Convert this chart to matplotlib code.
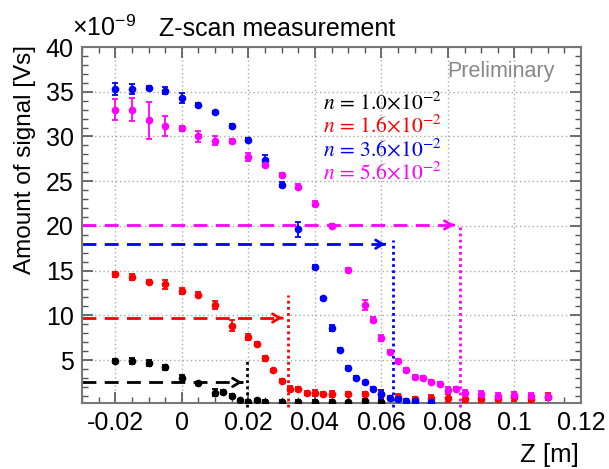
# -*- coding: utf-8 -*-

'''
    Z-scan measurement: signal vs. Z for four n values
'''

import matplotlib
matplotlib.use('Agg')
import matplotlib.pyplot as plt
from matplotlib.ticker import MultipleLocator

plt.rcParams['font.family'] = ['Liberation Sans', 'DejaVu Sans']
plt.rcParams['mathtext.fontset'] = 'stix'

# ---- data (signal in units of 1e-9 Vs) ----
x_n1 = [-0.02, -0.015, -0.01, -0.005, 0, 0.005, 0.01, 0.0125, 0.015, 0.0175,
        0.02, 0.0225, 0.025, 0.03, 0.035, 0.04, 0.045, 0.05, 0.055, 0.06]
y_n1 = [4.9, 4.9, 4.7, 4.2, 2.95, 2.4, 1.35, 1.4, 1.0, 0.5,
        0.35, 0.5, 0.35, 0.35, 0.35, 0.35, 0.35, 0.3, 0.4, 0.35]
e_n1 = [0.2, 0.35, 0.35, 0.3, 0.35, 0.2, 0.4, 0.2, 0.2, 0.15,
        0.15, 0.2, 0.15, 0.15, 0.15, 0.15, 0.15, 0.15, 0.3, 0.15]

x_n2 = [-0.02, -0.015, -0.01, -0.005, 0, 0.005, 0.01, 0.015, 0.02, 0.0225,
        0.025, 0.0275, 0.03, 0.0325, 0.035, 0.0375, 0.04, 0.0425, 0.045, 0.05,
        0.055, 0.06, 0.065, 0.07, 0.075, 0.08, 0.085, 0.09, 0.095, 0.1,
        0.105, 0.11]
y_n2 = [14.6, 14.25, 13.7, 13.5, 12.7, 12.3, 11.15, 8.85, 7.6, 6.8,
        5.2, 3.85, 2.7, 1.8, 1.75, 1.3, 1.3, 1.2, 1.2, 1.2,
        1.2, 1.2, 0.9, 0.6, 0.8, 0.8, 0.7, 0.65, 0.7, 0.9,
        0.7, 0.9]
e_n2 = [0.3, 0.35, 0.2, 0.5, 0.35, 0.3, 0.45, 0.65, 0.35, 0.2,
        0.3, 0.2, 0.2, 0.3, 0.2, 0.2, 0.3, 0.2, 0.3, 0.25,
        0.25, 0.35, 0.3, 0.25, 0.35, 0.45, 0.35, 0.3, 0.3, 0.5,
        0.35, 0.4]

x_n3 = [-0.02, -0.015, -0.01, -0.005, 0, 0.005, 0.01, 0.015, 0.02, 0.025,
        0.03, 0.035, 0.04, 0.0425, 0.045, 0.0475, 0.05, 0.0525, 0.055, 0.0575,
        0.06, 0.0625, 0.065, 0.0675, 0.07, 0.075]
y_n3 = [35.3, 35.3, 35.4, 35.1, 34.3, 33.5, 32.7, 31.2, 29.6, 27.4,
        24.6, 19.6, 15.4, 11.9, 8.6, 6.1, 4.1, 3.0, 2.5, 1.8,
        1.2, 0.8, 0.6, 0.45, 0.4, 0.3]
e_n3 = [0.65, 0.6, 0.25, 0.4, 0.55, 0.2, 0.2, 0.2, 0.2, 0.5,
        0.3, 0.85, 0.2, 0.2, 0.3, 0.2, 0.25, 0.2, 0.2, 0.2,
        0.4, 0.2, 0.2, 0.2, 0.2, 0.2]

x_n4 = [-0.02, -0.015, -0.01, -0.005, 0, 0.005, 0.01, 0.015, 0.02, 0.025,
        0.03, 0.035, 0.04, 0.045, 0.05, 0.055, 0.0575, 0.06, 0.0625, 0.065,
        0.0675, 0.07, 0.0725, 0.075, 0.0775, 0.08, 0.0825, 0.085, 0.09, 0.095,
        0.1, 0.105, 0.11]
y_n4 = [33.0, 33.0, 31.8, 31.2, 30.9, 30.0, 29.5, 29.5, 27.7, 26.8,
        25.7, 24.4, 22.5, 20.0, 15.1, 11.15, 9.5, 7.5, 5.9, 4.9,
        3.9, 3.1, 3.0, 2.6, 2.35, 1.65, 1.8, 1.3, 1.2, 1.0,
        1.1, 1.0, 0.9]
e_n4 = [1.2, 1.3, 2.1, 1.1, 0.25, 0.65, 0.5, 0.2, 0.5, 0.2,
        0.25, 0.3, 0.3, 0.2, 0.2, 0.55, 0.3, 0.35, 0.2, 0.2,
        0.2, 0.2, 0.25, 0.2, 0.2, 0.3, 0.2, 0.3, 0.3, 0.3,
        0.35, 0.3, 0.3]

labels = [r'$n\,=\,1.0{\times}10^{-2}$', r'$n\,=\,1.6{\times}10^{-2}$',
          r'$n\,=\,3.6{\times}10^{-2}$', r'$n\,=\,5.6{\times}10^{-2}$']
colors = ['black', '#ff0000', '#0000ff', '#ff00ff']

# threshold markers: level (horizontal dashed), arrow tip, vertical line x / top
thr_level = [2.5, 9.7, 17.95, 20.1]
thr_tip = [0.019, 0.031, 0.062, 0.0827]
thr_x = [0.0195, 0.032, 0.0635, 0.0836]
thr_top = [5.0, 12.3, 18.4, 20.1]


fig = plt.figure(figsize=(6.09, 4.69), dpi=100)
ax = fig.add_axes([82 / 609, 1 - 403 / 469, (581 - 82) / 609, (403 - 47) / 469])

xmin = -0.03
for i in range(4):
    c = colors[i]
    ax.plot([xmin, thr_tip[i] - 0.0005], [thr_level[i]] * 2, color=c, lw=2,
            dashes=(5, 3), zorder=2)
    ax.annotate('', xy=(thr_tip[i], thr_level[i]),
                xytext=(thr_tip[i] - 0.002, thr_level[i]),
                arrowprops=dict(arrowstyle='->,head_length=0.5,head_width=0.3',
                                color=c, lw=2), zorder=2)
    ax.plot([thr_x[i]] * 2, [-0.3, thr_top[i]], color=c, lw=2,
            dashes=(1, 1.2), zorder=2, clip_on=False)

series = [(x_n1, y_n1, e_n1), (x_n2, y_n2, e_n2),
          (x_n3, y_n3, e_n3), (x_n4, y_n4, e_n4)]
for (xs, ys, es), c in zip(series, colors):
    ax.errorbar(xs, ys, yerr=es, fmt='o', color=c, ms=4.5, elinewidth=1.3,
                capsize=2.5, capthick=1.3, zorder=3)

ax.set_xlim(-0.03, 0.12)
ax.set_ylim(0.2, 40)
ax.xaxis.set_minor_locator(MultipleLocator(0.005))
ax.yaxis.set_minor_locator(MultipleLocator(1))
ax.set_xticks([-0.02, 0, 0.02, 0.04, 0.06, 0.08, 0.1, 0.12])
ax.set_xticklabels(['-0.02', '0', '0.02', '0.04', '0.06', '0.08', '0.1', '0.12'])
ax.set_yticks([5, 10, 15, 20, 25, 30, 35, 40])
ax.set_yticklabels(['5', '10', '15', '20', '25', '30', '35', '40'])

ax.tick_params(which='both', direction='in', top=True, right=True,
               labelsize=18, colors='#555555', labelcolor='black')
ax.tick_params(which='major', length=8, width=1.2, pad=6)
ax.tick_params(which='minor', length=4, width=1)
for sp in ax.spines.values():
    sp.set_color('#777777')
    sp.set_linewidth(1.5)
ax.grid(True, which='major', linestyle=(0, (1, 2)), color='#aaaaaa', lw=1)
ax.set_axisbelow(True)

for i in range(4):
    ax.text(323 / 609, 1 - (103 + 23.5 * i) / 469, labels[i], color=colors[i],
            fontsize=15.5, transform=fig.transFigure, va='center', ha='left')

fig.text(447 / 609, 1 - 71 / 469, 'Preliminary', color='#888888', fontsize=15.5,
         va='center', ha='left')
fig.text(72 / 609, 1 - 36 / 469, r'×10$^{\mathregular{-9}}$', fontsize=18,
         va='baseline', ha='left')
fig.text(277 / 609, 1 - 36 / 469, 'Z-scan measurement', fontsize=18,
         va='baseline', ha='center')
fig.text(25 / 609, 1 - 45 / 469, 'Amount of signal [Vs]', fontsize=17.5,
         rotation=90, va='top', ha='center')
fig.text(579 / 609, 1 - 462 / 469, 'Z [m]', fontsize=18.5, va='baseline', ha='right')

fig.savefig('out.png', dpi=100)
